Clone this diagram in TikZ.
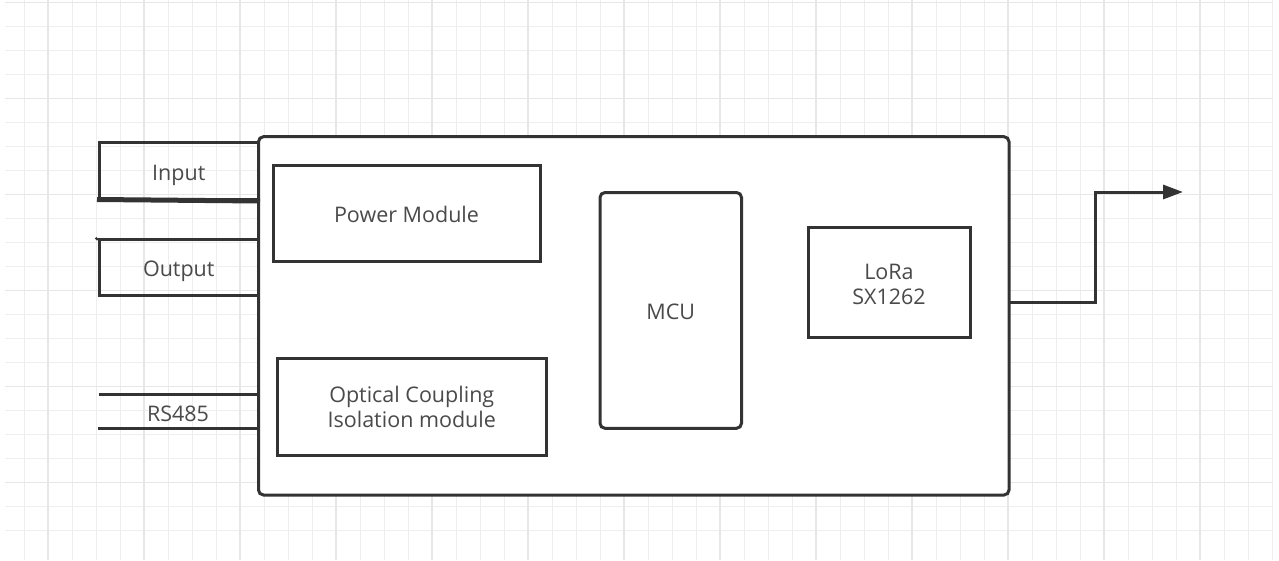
\documentclass[tikz,border=0pt]{standalone}
\usepackage{fontspec}
\setmainfont{Open Sans}
\usetikzlibrary{arrows.meta}
\definecolor{ln}{HTML}{333333}
\definecolor{tx}{HTML}{4A4A4A}
\definecolor{gmin}{HTML}{EEEEEE}
\definecolor{gmaj}{HTML}{E7E7E7}
\begin{document}
\begin{tikzpicture}[x=1pt,y=-1pt,
  box/.style={draw=ln, line width=3pt, rectangle, inner sep=0pt,
    font=\fontsize{21.5}{25.5}\selectfont, text=tx, align=center},
  one/.style={text height=18.5pt, text depth=0pt},
  rbox/.style={box, rounded corners=5pt},
  wire/.style={draw=ln, line width=3pt},
  lbl/.style={font=\fontsize{21.5}{25.5}\selectfont, text=tx, inner sep=0pt, one},
  gridmin/.style={draw=gmin, line width=1pt},
  gridmaj/.style={draw=gmaj, line width=1.2pt}]
\useasboundingbox (0,0) rectangle (1279,560);
% grid
\foreach \i in {1,...,53} \draw[gridmin] (24*\i,0) -- (24*\i,560);
\foreach \j in {0,...,22} \draw[gridmin] (5,2.7+24*\j) -- (1273,2.7+24*\j);
\foreach \k in {0,...,12} \draw[gridmaj] (48+96*\k,0) -- (48+96*\k,560);
\foreach \k in {0,...,5} \draw[gridmaj] (5,2.7+96*\k) -- (1273,2.7+96*\k);
% main blocks
\node[rbox, fill=white, minimum width=750.5pt, minimum height=358.3pt] (outer) at (633.75,315.85) {};
\node[box, one, minimum width=159.5pt, minimum height=56.8pt] (input) at (178.75,171.1) {Input};
\node[box, one, minimum width=159.5pt, minimum height=55.5pt] (output) at (178.75,267.25) {Output};
\node[box, one, minimum width=267pt, minimum height=96pt] (power) at (406.5,213) {Power Module};
\node[box, minimum width=269.5pt, minimum height=97pt] (optical) at (411.75,407) {Optical Coupling\\Isolation module};
\node[rbox, one, minimum width=141.5pt, minimum height=235.8pt] (mcu) at (670.75,310.4) {MCU};
\node[box, minimum width=162pt, minimum height=110.5pt] (lora) at (889,282.5) {\rule{0pt}{19pt}LoRa\\SX1262};
% input / output extras
\coordinate (i1) at (97,199.5);
\draw[draw=ln, line width=5pt] (i1) -- (input.south east);
\coordinate (o1) at (96,239.5);
\draw[wire] (o1) -- (output.north west);
% RS485
\coordinate (r1) at (99,394.3);
\coordinate (r2) at (98,428.7);
\draw[wire] (r1) -- (r1 -| outer.west);
\draw[wire] (r2) -- (r2 -| outer.west);
\node[lbl] (rs) at (178,412) {RS485};
% output arrow
\coordinate (aout) at (1009,302);
\coordinate (a1) at (1095,192);
\coordinate (tip) at (1183,192);
\draw[wire, -{Triangle[length=20pt,width=14pt]}] (aout) -| (a1) -- (tip);
\end{tikzpicture}
\end{document}
